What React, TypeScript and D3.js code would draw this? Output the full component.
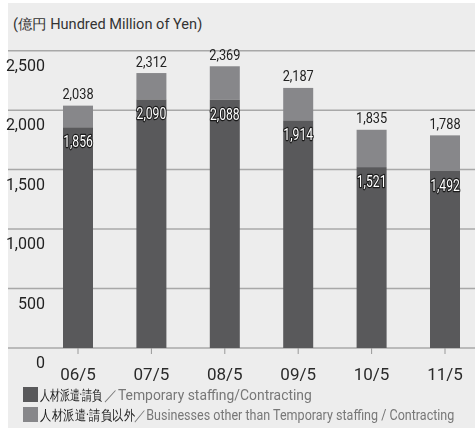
import React, { useLayoutEffect, useRef, useState } from "react";
import * as d3 from "d3";

const categories = ["06/5", "07/5", "08/5", "09/5", "10/5", "11/5"];
const staffing = [1856, 2090, 2088, 1914, 1521, 1492];
const totals = [2038, 2312, 2369, 2187, 1835, 1788];
const yTicks = [0, 500, 1000, 1500, 2000, 2500];

const W = 475;
const H = 430;
const DARK = "#59595b";
const LIGHT = "#87878a";
const BG = "#ededed";

function FitText(props: { x: number; y: number; width: number; fontSize: number; fill: string; children: string }) {
  const ref = useRef<SVGTextElement>(null);
  const [sx, setSx] = useState(1);
  useLayoutEffect(() => {
    if (ref.current) {
      const w = ref.current.getComputedTextLength();
      if (w > 0) setSx(props.width / w);
    }
  }, [props.width, props.children]);
  return (
    <text
      ref={ref}
      transform={`translate(${props.x},${props.y}) scale(${sx},1)`}
      fontSize={props.fontSize}
      fill={props.fill}
    >
      {props.children}
    </text>
  );
}

export default function App() {
  const y = d3.scaleLinear().domain([0, 2500]).range([348, 50.7]);
  const x = d3.scalePoint<string>().domain(categories).range([78, 445]);
  const bw = 30;
  const fmt = d3.format(",");
  const font = "Roboto, 'DejaVu Sans', sans-serif";

  return (
    <div style={{ position: "fixed", left: 0, top: 0 }}>
      <svg width={W} height={H} style={{ display: "block" }} fontFamily={font}>
        <rect x={8} y={3} width={W - 8} height={425} fill={BG} />
        <FitText x={13} y={29} width={190} fontSize={14} fill="#333">
          (億円 Hundred Million of Yen)
        </FitText>
        {yTicks.map((t) => (
          <g key={t}>
            <line x1={8} x2={W} y1={y(t)} y2={y(t)} stroke="#a8a8a8" strokeWidth={1.5} />
            <text x={45} y={y(t) + 20} textAnchor="end" fontSize={16} fill="#222">
              {fmt(t)}
            </text>
          </g>
        ))}
        {categories.map((c, i) => {
          const cx = x(c)!;
          const yTop = y(totals[i]);
          const ySplit = y(staffing[i]);
          return (
            <g key={c}>
              <rect x={cx - bw / 2} y={yTop} width={bw} height={ySplit - yTop} fill={LIGHT} />
              <rect x={cx - bw / 2} y={ySplit} width={bw} height={y(0) - ySplit} fill={DARK} />
              <line x1={cx} x2={cx} y1={y(0)} y2={y(0) + 6} stroke="#999" strokeWidth={1} />
              <text
                transform={`translate(${cx},${yTop - 6.5}) scale(0.85,1)`}
                textAnchor="middle"
                fontSize={15}
                fill="#222"
              >
                {fmt(totals[i])}
              </text>
              <text
                transform={`translate(${cx},${ySplit + 20}) scale(0.76,1)`}
                textAnchor="middle"
                fontSize={16}
                fill="#fff"
                stroke="#1a1a1a"
                strokeWidth={2.4}
                paintOrder="stroke"
                strokeLinejoin="round"
              >
                {fmt(staffing[i])}
              </text>
              <text x={cx} y={380} textAnchor="middle" fontSize={17} fill="#2a2a2a">
                {c}
              </text>
            </g>
          );
        })}
        <rect x={23} y={387} width={15} height={15} fill={DARK} />
        <rect x={23} y={407} width={15} height={15} fill={LIGHT} />
        <FitText x={40} y={399.5} width={63} fontSize={14} fill="#222">
          人材派遣·請負
        </FitText>
        <FitText x={104} y={399.5} width={208} fontSize={14} fill="#777">
          ／Temporary staffing/Contracting
        </FitText>
        <FitText x={40} y={419.5} width={93} fontSize={14} fill="#222">
          人材派遣·請負以外
        </FitText>
        <FitText x={134} y={419.5} width={321} fontSize={14} fill="#777">
          ／Businesses other than Temporary staffing / Contracting
        </FitText>
      </svg>
    </div>
  );
}
